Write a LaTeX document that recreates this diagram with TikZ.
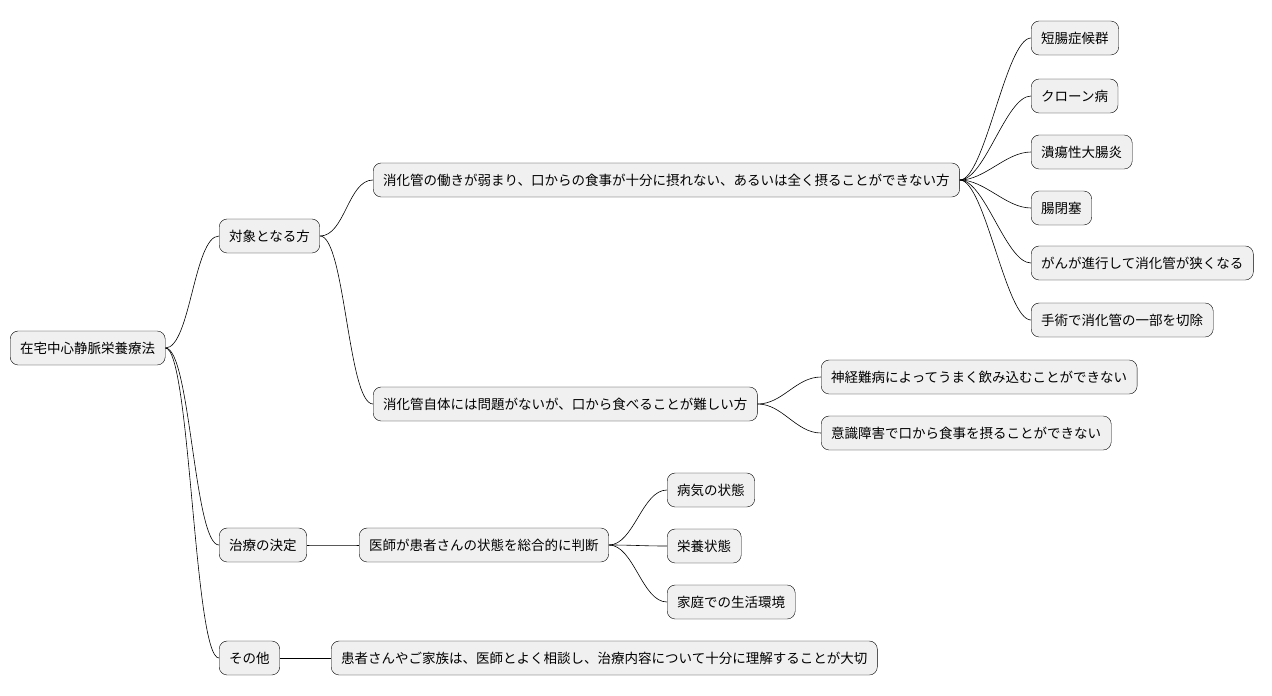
\documentclass[tikz,border=0pt]{standalone}
\usepackage{fontspec}
\setmainfont{Noto Sans CJK JP}
\begin{document}
\begin{tikzpicture}[x=1pt,y=-1pt,
	topic/.style={draw=black,fill=black!6,rounded corners=8pt,anchor=west,inner xsep=10pt,inner ysep=0pt,minimum height=34pt,font=\fontsize{13.5pt}{15pt}\selectfont},
	link/.style={draw=black,line width=0.6pt}]
	\useasboundingbox (0,0) rectangle (1272,696);
	% root and first level
	\node[topic] (root) at (10,348) {在宅中心静脈栄養療法};
	\node[topic] (target) at (219,236) {対象となる方};
	\node[topic] (decide) at (219,545) {治療の決定};
	\node[topic] (other) at (219,658) {その他};
	% target
	\node[topic] (weak) at (373,180) {消化管の働きが弱まり、口からの食事が十分に摂れない、あるいは全く摂ることができない方};
	\node[topic] (hard) at (373,404) {消化管自体には問題がないが、口から食べることが難しい方};
	\node[topic] (w1) at (1031,38) {短腸症候群};
	\node[topic] (w2) at (1031,96) {クローン病};
	\node[topic] (w3) at (1031,152) {潰瘍性大腸炎};
	\node[topic] (w4) at (1031,208) {腸閉塞};
	\node[topic] (w5) at (1031,263) {がんが進行して消化管が狭くなる};
	\node[topic] (w6) at (1031,320) {手術で消化管の一部を切除};
	\node[topic] (h1) at (821,377) {神経難病によってうまく飲み込むことができない};
	\node[topic] (h2) at (821,433) {意識障害で口から食事を摂ることができない};
	% decide
	\node[topic] (doctor) at (359,545) {医師が患者さんの状態を総合的に判断};
	\node[topic] (d1) at (667,490) {病気の状態};
	\node[topic] (d2) at (667,546) {栄養状態};
	\node[topic] (d3) at (667,602) {家庭での生活環境};
	% other
	\node[topic] (talk) at (331,658) {患者さんやご家族は、医師とよく相談し、治療内容について十分に理解することが大切};
	% connectors
	\foreach \a/\b in {root/target,root/decide,root/other,target/weak,target/hard,
		weak/w1,weak/w2,weak/w3,weak/w4,weak/w5,weak/w6,hard/h1,hard/h2,
		decide/doctor,doctor/d1,doctor/d2,doctor/d3,other/talk}
		\draw[link] (\a.east) .. controls +(25,0) and +(-25,0) .. (\b.west);
\end{tikzpicture}
\end{document}
